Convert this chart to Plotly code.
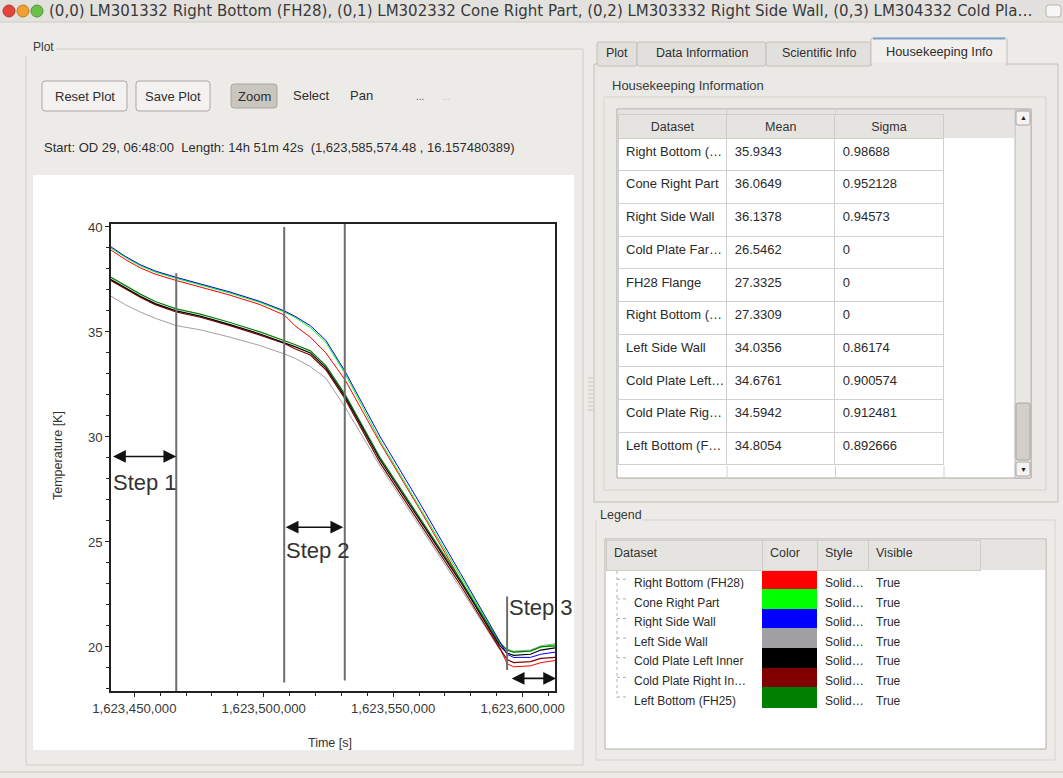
import plotly.graph_objects as go

W, H = 1063, 778

# ---------------- data ----------------
time_s = [1623441000, 1623446500, 1623452300, 1623458100, 1623466200, 1623475500,
          1623487000, 1623498600, 1623508000, 1623512000, 1623518000, 1623524000,
          1623531500, 1623545000, 1623560500, 1623576000, 1623591000, 1623594000,
          1623596500, 1623603000, 1623607000, 1623612500]

right_bottom_fh28 = [38.9, 38.45, 38.05, 37.75, 37.45, 37.15, 36.75, 36.3, 35.8, 35.3, 34.75, 34.0,
                     32.7, 29.7, 26.5, 23.2, 20.0, 19.2, 19.05, 19.1, 19.25, 19.35]
cone_right_part = [39.0, 38.55, 38.15, 37.85, 37.55, 37.25, 36.85, 36.4, 35.95, 35.7, 35.2, 34.5,
                   33.0, 29.8, 26.6, 23.35, 20.25, 19.85, 19.75, 19.8, 20.0, 20.1]
right_side_wall = [39.05, 38.6, 38.2, 37.9, 37.6, 37.3, 36.9, 36.45, 36.0, 35.75, 35.3, 34.6,
                   33.1, 30.0, 26.8, 23.5, 20.3, 19.65, 19.5, 19.5, 19.65, 19.75]
left_side_wall = [36.7, 36.3, 35.95, 35.65, 35.3, 35.1, 34.75, 34.35, 33.95, 33.75, 33.35, 32.8,
                  31.4, 28.6, 25.7, 22.8, 19.9, 19.9, 19.8, 19.85, 20.05, 20.15]
cold_plate_left_inner = [37.5, 37.1, 36.7, 36.35, 36.0, 35.75, 35.35, 34.9, 34.5, 34.3, 34.0, 33.3,
                         31.9, 28.9, 26.0, 23.1, 20.1, 19.7, 19.6, 19.65, 19.85, 19.95]
cold_plate_right_inner = [37.45, 37.05, 36.65, 36.3, 35.95, 35.7, 35.3, 34.85, 34.45, 34.2, 33.9, 33.2,
                          31.8, 28.75, 25.85, 22.95, 19.95, 19.4, 19.25, 19.3, 19.45, 19.5]
left_bottom_fh25 = [37.6, 37.2, 36.8, 36.45, 36.1, 35.85, 35.45, 35.0, 34.6, 34.4, 34.1, 33.4,
                    32.0, 29.0, 26.1, 23.2, 20.2, 19.85, 19.75, 19.8, 20.0, 20.05]

series_names = ["Right Bottom (FH28)", "Cone Right Part", "Right Side Wall", "Left Side Wall",
                "Cold Plate Left Inner", "Cold Plate Right Inner", "Left Bottom (FH25)"]
series_values = [right_bottom_fh28, cone_right_part, right_side_wall, left_side_wall,
                 cold_plate_left_inner, cold_plate_right_inner, left_bottom_fh25]
series_colors = ["#ff0000", "#00ff00", "#0000ff", "#a0a0a4", "#000000", "#800000", "#008000"]
draw_order = [3, 0, 1, 5, 6, 4, 2]

x_tick_vals = [1623450000, 1623500000, 1623550000, 1623600000]
y_tick_vals = [20, 25, 30, 35, 40]

# step markers (time, temperature)
step_lines = [(1623466200, 37.8, 17.9), (1623507900, 40.0, 18.3),
              (1623531300, 40.2, 18.4), (1623594000, 22.4, 18.9)]
step_arrows = [(1623441200, 1623466200, 29.07), (1623507900, 1623530700, 25.7),
               (1623595200, 1623612900, 18.5)]
step_labels = [("Step 1", 1623441000, 27.85), ("Step 2", 1623507900, 24.6),
               ("Step 3", 1623594000, 21.9)]

# housekeeping table
hk_dataset = ["Right Bottom (…", "Cone Right Part", "Right Side Wall", "Cold Plate Far…",
              "FH28 Flange", "Right Bottom (…", "Left Side Wall", "Cold Plate Left…",
              "Cold Plate Rig…", "Left Bottom (F…"]
hk_mean = ["35.9343", "36.0649", "36.1378", "26.5462", "27.3325", "27.3309",
           "34.0356", "34.6761", "34.5942", "34.8054"]
hk_sigma = ["0.98688", "0.952128", "0.94573", "0", "0", "0",
            "0.86174", "0.900574", "0.912481", "0.892666"]

# legend table
lg_names = ["Right Bottom (FH28)", "Cone Right Part", "Right Side Wall", "Left Side Wall",
            "Cold Plate Left Inner", "Cold Plate Right In…", "Left Bottom (FH25)"]
lg_style = ["Solid…"] * 7
lg_visible = ["True"] * 7

title_text = ("(0,0) LM301332 Right Bottom (FH28), (0,1) LM302332 Cone Right Part, "
              "(0,2) LM303332 Right Side Wall, (0,3) LM304332 Cold Pla…")
info_text = ("Start: OD 29, 06:48:00\u00a0\u00a0Length: 14h 51m 42s\u00a0\u00a0"
             "(1,623,585,574.48 , 16.157480389)")

# ---------------- helpers (pixel -> paper) ----------------
GUI_FONT = "Liberation Sans, Arial, sans-serif"
BG = "#edebe7"
NB = "\u00a0"


def nb(s):
    return s.replace(" ", NB)


def X(x):
    return x / W


def Y(y):
    return 1 - y / H


shapes = []
annos = []


def rect(x0, y0, x1, y1, fill, line=None, lw=1, layer="below"):
    shapes.append(dict(type="rect", xref="paper", yref="paper", x0=X(x0), x1=X(x1), y0=Y(y1), y1=Y(y0),
                       fillcolor=fill, line=dict(color=line or fill, width=lw if line else 0), layer=layer))


def rrect(x0, y0, x1, y1, r, fill, line, lw=1, layer="below"):
    p = (f"M {X(x0 + r)},{Y(y0)} L {X(x1 - r)},{Y(y0)} Q {X(x1)},{Y(y0)} {X(x1)},{Y(y0 + r)} "
         f"L {X(x1)},{Y(y1 - r)} Q {X(x1)},{Y(y1)} {X(x1 - r)},{Y(y1)} L {X(x0 + r)},{Y(y1)} "
         f"Q {X(x0)},{Y(y1)} {X(x0)},{Y(y1 - r)} L {X(x0)},{Y(y0 + r)} Q {X(x0)},{Y(y0)} {X(x0 + r)},{Y(y0)} Z")
    shapes.append(dict(type="path", xref="paper", yref="paper", path=p, fillcolor=fill,
                       line=dict(color=line, width=lw), layer=layer))


def hline(x0, x1, y, color, lw=1, dash="solid", layer="below"):
    shapes.append(dict(type="line", xref="paper", yref="paper", x0=X(x0), x1=X(x1), y0=Y(y), y1=Y(y),
                       line=dict(color=color, width=lw, dash=dash), layer=layer))


def vline(x, y0, y1, color, lw=1, dash="solid", layer="below"):
    shapes.append(dict(type="line", xref="paper", yref="paper", x0=X(x), x1=X(x), y0=Y(y0), y1=Y(y1),
                       line=dict(color=color, width=lw, dash=dash), layer=layer))


def circle(cx, cy, r, fill, line):
    shapes.append(dict(type="circle", xref="paper", yref="paper", x0=X(cx - r), x1=X(cx + r),
                       y0=Y(cy + r), y1=Y(cy - r), fillcolor=fill, line=dict(color=line, width=1),
                       layer="above"))


def text(x, y, s, size=13, color="#2e2e2e", xa="left", family=GUI_FONT, angle=0):
    annos.append(dict(x=X(x), y=Y(y), xref="paper", yref="paper", text=s, showarrow=False,
                      xanchor=xa, yanchor="middle", textangle=angle,
                      font=dict(family=family, size=size, color=color)))


# ---------------- window chrome ----------------
rect(0, 0, W, 22, "#e3e1dd")
hline(0, W, 22, "#cfccc7")
circle(9, 11, 6, "#e2453c", "#b23a32")
circle(23, 11, 6, "#f0a032", "#c07a20")
circle(37, 11, 6, "#6cbf4a", "#4b9a30")
text(47, 11, title_text, size=15, color="#3a3a3a", family="DejaVu Sans, sans-serif")
rrect(1046, 5, 1061, 17, 3, "#f6f6f6", "#b8b5b0")

# left "Plot" group
text(31, 47, "Plot", size=12, color="#3a3a3a")
hline(56, 583, 49, "#d0cdc8")
vline(26, 56, 765, "#d0cdc8")
vline(583, 49, 765, "#d0cdc8")
hline(26, 583, 765, "#d0cdc8")

# buttons
rrect(42, 81, 127, 111, 3, "#f3f2f0", "#aaa7a2")
text(84.5, 96, "Reset Plot", xa="center")
rrect(136, 81, 210, 111, 3, "#f3f2f0", "#aaa7a2")
text(173, 96, "Save Plot", xa="center")
rrect(231, 84, 277, 108, 3, "#c9c6c0", "#a8a5a0")
text(254, 96, "Zoom", xa="center")
text(291, 95, "Select")
text(348, 95, "Pan")
text(414, 97, "...", size=10, color="#555")
text(440, 97, "...", size=10, color="#c8c6c2")
text(42, 147, info_text, size=13)

# white plot panel
rect(33, 175, 574, 750, "#ffffff")

# right tab widget
rect(594, 64, 1058, 502, "#ebe9e5", "#c3c0bb")
rrect(597, 42, 637, 66, 2, "#e2e0dc", "#c3c0bb")
text(617, 53, "Plot", xa="center", size=12.5)
rrect(637, 42, 766, 66, 2, "#e2e0dc", "#c3c0bb")
text(701.5, 53, "Data Information", xa="center", size=12.5)
rrect(766, 42, 871, 66, 2, "#e2e0dc", "#c3c0bb")
text(818.5, 53, "Scientific Info", xa="center", size=12.5)
rrect(871, 38, 1007, 66, 2, "#f1efec", "#c3c0bb")
hline(873, 1005, 38.5, "#7da2ce", lw=2)
rect(872, 62, 1006, 67, "#ebe9e5")
text(939, 52, "Housekeeping Info", xa="center", size=12.8)

text(610, 86, "Housekeeping Information", size=13, color="#3a3a3a")
hline(604, 1046, 97, "#d6d3ce")
vline(604, 97, 490, "#d6d3ce")
vline(1046, 97, 490, "#d6d3ce")
hline(604, 1046, 490, "#d6d3ce")

# table frame
rect(617, 109, 1031, 478, "#ffffff", "#a9a6a1")
rect(618, 110, 1014, 138, "#e6e4e0")
rect(1015, 110, 1031, 478, "#e9e7e3", "#b9b6b1")
rrect(1016, 111, 1030, 125, 2, "#f4f3f1", "#a9a6a1")
rrect(1016, 403, 1030, 460, 2, "#d2cfca", "#a9a6a1")
rrect(1016, 462, 1030, 476, 2, "#f4f3f1", "#a9a6a1")
text(1023, 117.5, "▲", size=7, color="#222", xa="center")
text(1023, 469, "▼", size=7, color="#222", xa="center")
for xx in (727, 835.5, 944):
    vline(xx, 466, 477, "#d0d0d0")
for xx in (727, 835.5):
    vline(xx, 110, 114, "#cfccc7")

# splitter handle
for yy in range(378, 414, 4):
    hline(588, 593, yy, "#c5c2bd")

# legend group
text(598, 515, "Legend", size=12.5, color="#3a3a3a")
hline(642, 1055, 520, "#d6d3ce")
vline(596, 520, 760, "#d6d3ce")
vline(1055, 520, 760, "#d6d3ce")
hline(596, 1055, 760, "#d6d3ce")
rect(605, 539, 1046, 749, "#ffffff", "#b3b0ab")
rect(980, 540, 1045, 570, "#e6e4e0")
vline(980, 540, 570, "#cfccc7")

# tree lines
vline(617, 571, 698, "#b0b0b0", dash="dot", layer="above")
for k in range(7):
    hline(617, 629, 579.3 + 19.6 * k, "#b0b0b0", dash="dot", layer="above")

# window bottom
hline(0, W, 772, "#c9c6c1")

# axis titles
text(58, 456, "Temperature [K]", size=12.5, color="#333", xa="center", angle=-90)
text(330, 743, "Time [s]", size=12.5, color="#333", xa="center")

# ---------------- figure ----------------
fig = go.Figure()

for i in draw_order:
    fig.add_trace(go.Scatter(x=time_s, y=series_values[i], mode="lines", name=series_names[i],
                             line=dict(color=series_colors[i], width=1.2 if i in (4, 5, 6) else 1)))

# step annotation lines/arrows in data coordinates
for (t, y0, y1) in step_lines:
    shapes.append(dict(type="line", xref="x", yref="y", x0=t, x1=t, y0=y0, y1=y1,
                       line=dict(color="#6e6e6e", width=2), layer="above"))
for (t0, t1, yv) in step_arrows:
    annos.append(dict(x=t1, y=yv, ax=t0, ay=yv, xref="x", yref="y", axref="x", ayref="y",
                      showarrow=True, arrowhead=2, startarrowhead=2, arrowside="end+start",
                      arrowsize=1.6, startarrowsize=1.6, arrowwidth=1.6, arrowcolor="#111", text=""))
for (s, t, yv) in step_labels:
    annos.append(dict(x=t, y=yv, xref="x", yref="y", text=s, showarrow=False, xanchor="left",
                      yanchor="middle", font=dict(family=GUI_FONT, size=22, color="#333")))

# tables
fig.add_trace(go.Table(
    domain=dict(x=[X(618), X(944)], y=[Y(477), Y(114)]),
    columnwidth=[109, 108.5, 108.5],
    header=dict(values=["Dataset", "Mean", "Sigma"], height=24, align="center",
                fill_color="#e6e4e0", line=dict(color="#cfccc7", width=1),
                font=dict(family=GUI_FONT, size=12.5, color="#333")),
    cells=dict(values=[[nb(s) for s in hk_dataset], hk_mean, hk_sigma], height=32.7, align="left",
               fill_color="#ffffff", line=dict(color="#d0d0d0", width=1),
               font=dict(family=GUI_FONT, size=13, color="#2a2a2a"))))

white7 = ["#ffffff"] * 7
fig.add_trace(go.Table(
    domain=dict(x=[X(606), X(980)], y=[Y(748), Y(540)]),
    columnwidth=[156, 55, 51, 112],
    header=dict(values=["Dataset", "Color", "Style", "Visible"], height=30, align="left",
                fill_color="#e6e4e0", line=dict(color="#cfccc7", width=1),
                font=dict(family=GUI_FONT, size=12.5, color="#333")),
    cells=dict(values=[[NB * 6 + nb(n) for n in lg_names], [""] * 7, lg_style, lg_visible],
               height=19.6, align="left",
               fill_color=[white7, series_colors, white7, white7],
               line=dict(color=[white7, series_colors, white7, white7], width=1),
               font=dict(family=GUI_FONT, size=12, color="#2a2a2a"))))

fig.update_layout(
    width=W, height=H, autosize=False,
    margin=dict(l=0, r=0, t=0, b=0, pad=0, autoexpand=False),
    paper_bgcolor=BG, plot_bgcolor="rgba(0,0,0,0)",
    showlegend=False,
    font=dict(family=GUI_FONT, size=12, color="#2e2e2e"),
    shapes=shapes, annotations=annos,
    xaxis=dict(domain=[X(111), X(555)], range=[1623441000, 1623612500], automargin=False,
               tickvals=x_tick_vals, tickformat=",d", ticks="outside", ticklen=4, tickcolor="#222",
               minor=dict(dtick=10000, tick0=1623450000, ticks="outside", ticklen=3, tickcolor="#222"),
               showline=True, linecolor="#222", linewidth=1.5, mirror=True,
               showgrid=False, zeroline=False,
               tickfont=dict(family=GUI_FONT, size=13.2, color="#3a3a3a")),
    yaxis=dict(domain=[Y(691), Y(224)], range=[17.9, 40.14], automargin=False,
               tickvals=y_tick_vals, ticks="outside", ticklen=4, tickcolor="#222",
               minor=dict(dtick=1, tick0=20, ticks="outside", ticklen=3, tickcolor="#222"),
               showline=True, linecolor="#222", linewidth=1.5, mirror=True,
               showgrid=False, zeroline=False,
               tickfont=dict(family=GUI_FONT, size=13.2, color="#3a3a3a")),
)

fig.write_html("out.html", config={"displayModeBar": False},
               post_script="document.body.style.margin='0px';document.body.style.overflow='hidden';")
